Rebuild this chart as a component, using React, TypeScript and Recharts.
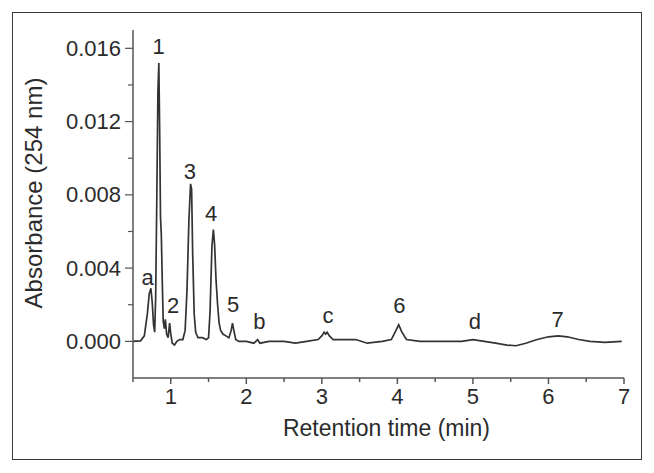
import React from 'react'
import { ComposedChart, Line, Scatter, XAxis, YAxis, Label } from 'recharts'

// retention time (min) and absorbance
const times = [
  0.5, 0.6, 0.65, 0.69, 0.715, 0.737, 0.755, 0.772, 0.787, 0.8,
  0.815, 0.83, 0.842, 0.853, 0.864, 0.875, 0.888, 0.9, 0.915, 0.928,
  0.945, 0.965, 0.985, 1.0, 1.02, 1.05, 1.08, 1.12, 1.16, 1.19,
  1.215, 1.24, 1.262, 1.276, 1.29, 1.31, 1.33, 1.36, 1.42, 1.47,
  1.5, 1.52, 1.545, 1.564, 1.58, 1.6, 1.62, 1.64, 1.66, 1.69,
  1.73, 1.77, 1.8, 1.817, 1.835, 1.86, 1.9, 2.0, 2.1, 2.15,
  2.18, 2.3, 2.5, 2.65, 2.8, 2.95, 3.0, 3.03, 3.05, 3.07,
  3.1, 3.15, 3.3, 3.45, 3.6, 3.8, 3.92, 3.97, 4.017, 4.06,
  4.12, 4.3, 4.5, 4.7, 4.85, 5.0, 5.15, 5.3, 5.45, 5.57,
  5.7, 5.85, 6.0, 6.13, 6.25, 6.4, 6.55, 6.75, 6.97,
]
const absorbance = [
  0, 0.00003, 0.0003, 0.0015, 0.0026, 0.0029, 0.0021, 0.0009, 0.0005, 0.0024,
  0.0078, 0.0137, 0.0152, 0.0115, 0.0068, 0.0058, 0.0032, 0.0011, 0.0007, 0.0012,
  0.0004, 0.0002, 0.001, 0.0004, -0.0001, -0.0002, 0, 0.0001, 0.0001, 0.0006,
  0.0028, 0.0066, 0.0086, 0.0083, 0.0048, 0.0015, 0.0005, 0.0002, 0.0002, 0.0001,
  0.0002, 0.0016, 0.0052, 0.0061, 0.0053, 0.0033, 0.002, 0.001, 0.0006, 0.0004,
  0.0003, 0.0002, 0.0006, 0.001, 0.0006, 0.0001, 0, 0, -0.0001, 0.0001,
  -0.0001, 0, 0, -0.0001, 0, 0.0001, 0.0003, 0.0005, 0.0004, 0.0005,
  0.0003, 0.0001, 0.0001, 0.0001, -0.0001, 0, 0.0001, 0.0005, 0.0009, 0.0005,
  0.0001, 0, 0, 0, 0, 0.0001, 0, -0.0001, -0.0002, -0.00024,
  -0.0001, 0.0001, 0.00025, 0.0003, 0.00025, 0.0001, 0, -0.00005, 0,
]

// peak labels, placed at data coordinates
const peakNames = ['a', '1', '2', '3', '4', '5', 'b', 'c', '6', 'd', '7']
const peakTimes = [0.693, 0.84, 1.03, 1.253, 1.533, 1.827, 2.173, 3.08, 4.027, 5.027, 6.12]
const peakLevels = [0.0035, 0.0161, 0.00195, 0.0093, 0.007, 0.002, 0.00107, 0.0014, 0.00195, 0.00107, 0.00118]

const xTicks = [0.5, 1, 1.5, 2, 2.5, 3, 3.5, 4, 4.5, 5, 5.5, 6, 6.5, 7]
const yTicks = [0, 0.002, 0.004, 0.006, 0.008, 0.01, 0.012, 0.014, 0.016]

const data = times.map((t, i) => ({ t, v: absorbance[i] }))
const peaks = peakNames.map((name, i) => ({ t: peakTimes[i], v: peakLevels[i], name }))

const FONT = '"Liberation Sans", Arial, sans-serif'
const TEXT = '#2b2b2b'
const AXIS = '#555'

const isMajor = (v: number, step: number) => Math.abs(v / step - Math.round(v / step)) < 1e-6

const YTick = (props: any) => {
  const { x, y, payload } = props
  const major = isMajor(payload.value, 0.004)
  return (
    <g>
      <line x1={x - (major ? 8 : 5)} x2={x} y1={y} y2={y} stroke={AXIS} strokeWidth={1.2} />
      {major && (
        <text x={x - 12} y={y} textAnchor="end" dominantBaseline="central" fontSize={22} fill={TEXT} fontFamily={FONT}>
          {payload.value.toFixed(3)}
        </text>
      )}
    </g>
  )
}

const XTick = (props: any) => {
  const { x, y, payload } = props
  const major = isMajor(payload.value, 1)
  return (
    <g>
      <line x1={x} x2={x} y1={y} y2={y + (major ? 6 : 4)} stroke={AXIS} strokeWidth={1.5} />
      {major && (
        <text x={x} y={y + 26} textAnchor="middle" fontSize={22} fill={TEXT} fontFamily={FONT}>
          {payload.value}
        </text>
      )}
    </g>
  )
}

const PeakLabel = (props: any) => {
  const { cx, cy, payload } = props
  return (
    <text x={cx} y={cy} textAnchor="middle" dominantBaseline="central" fontSize={22} fill={TEXT} fontFamily={FONT}>
      {payload.name}
    </text>
  )
}

export default function App() {
  return (
    <div style={{ position: 'relative', width: 654, height: 473, margin: -8, background: '#fff' }}>
      <div
        style={{
          position: 'absolute', left: 12, top: 12, width: 630, height: 448,
          border: '1.5px solid #3a3a3a', boxSizing: 'border-box',
        }}
      />
      <ComposedChart
        width={654}
        height={473}
        data={data}
        margin={{ top: 30, right: 30, left: 0, bottom: 0 }}
        style={{ position: 'absolute', left: 0, top: 0 }}
      >
        <XAxis
          dataKey="t"
          type="number"
          domain={[0.5, 7]}
          ticks={xTicks}
          interval={0}
          height={95}
          tickSize={0}
          tickMargin={0}
          tick={<XTick />}
          stroke={AXIS}
          strokeWidth={1.5}
          allowDataOverflow
        >
          <Label
            content={(p: any) => {
              const vb = p.viewBox
              return (
                <text x={vb.x + vb.width / 2 + 8} y={vb.y + 58} textAnchor="middle" fontSize={23} fill={TEXT} fontFamily={FONT}>
                  Retention time (min)
                </text>
              )
            }}
          />
        </XAxis>
        <YAxis
          type="number"
          domain={[-0.002, 0.017]}
          ticks={yTicks}
          interval={0}
          width={133}
          tickSize={0}
          tickMargin={0}
          tick={<YTick />}
          stroke={AXIS}
          strokeWidth={1.5}
          allowDataOverflow
        >
          <Label
            content={(p: any) => {
              const vb = p.viewBox
              const cx = vb.x + 33
              const cy = 193
              return (
                <text x={cx} y={cy} transform={`rotate(-90, ${cx}, ${cy})`} textAnchor="middle" dominantBaseline="central" fontSize={24} fill={TEXT} fontFamily={FONT}>
                  Absorbance (254 nm)
                </text>
              )
            }}
          />
        </YAxis>
        <Line
          dataKey="v"
          type="linear"
          stroke="#333"
          strokeWidth={1.7}
          dot={false}
          activeDot={false}
          isAnimationActive={false}
        />
        <Scatter data={peaks} dataKey="v" shape={<PeakLabel />} isAnimationActive={false} />
      </ComposedChart>
    </div>
  )
}
